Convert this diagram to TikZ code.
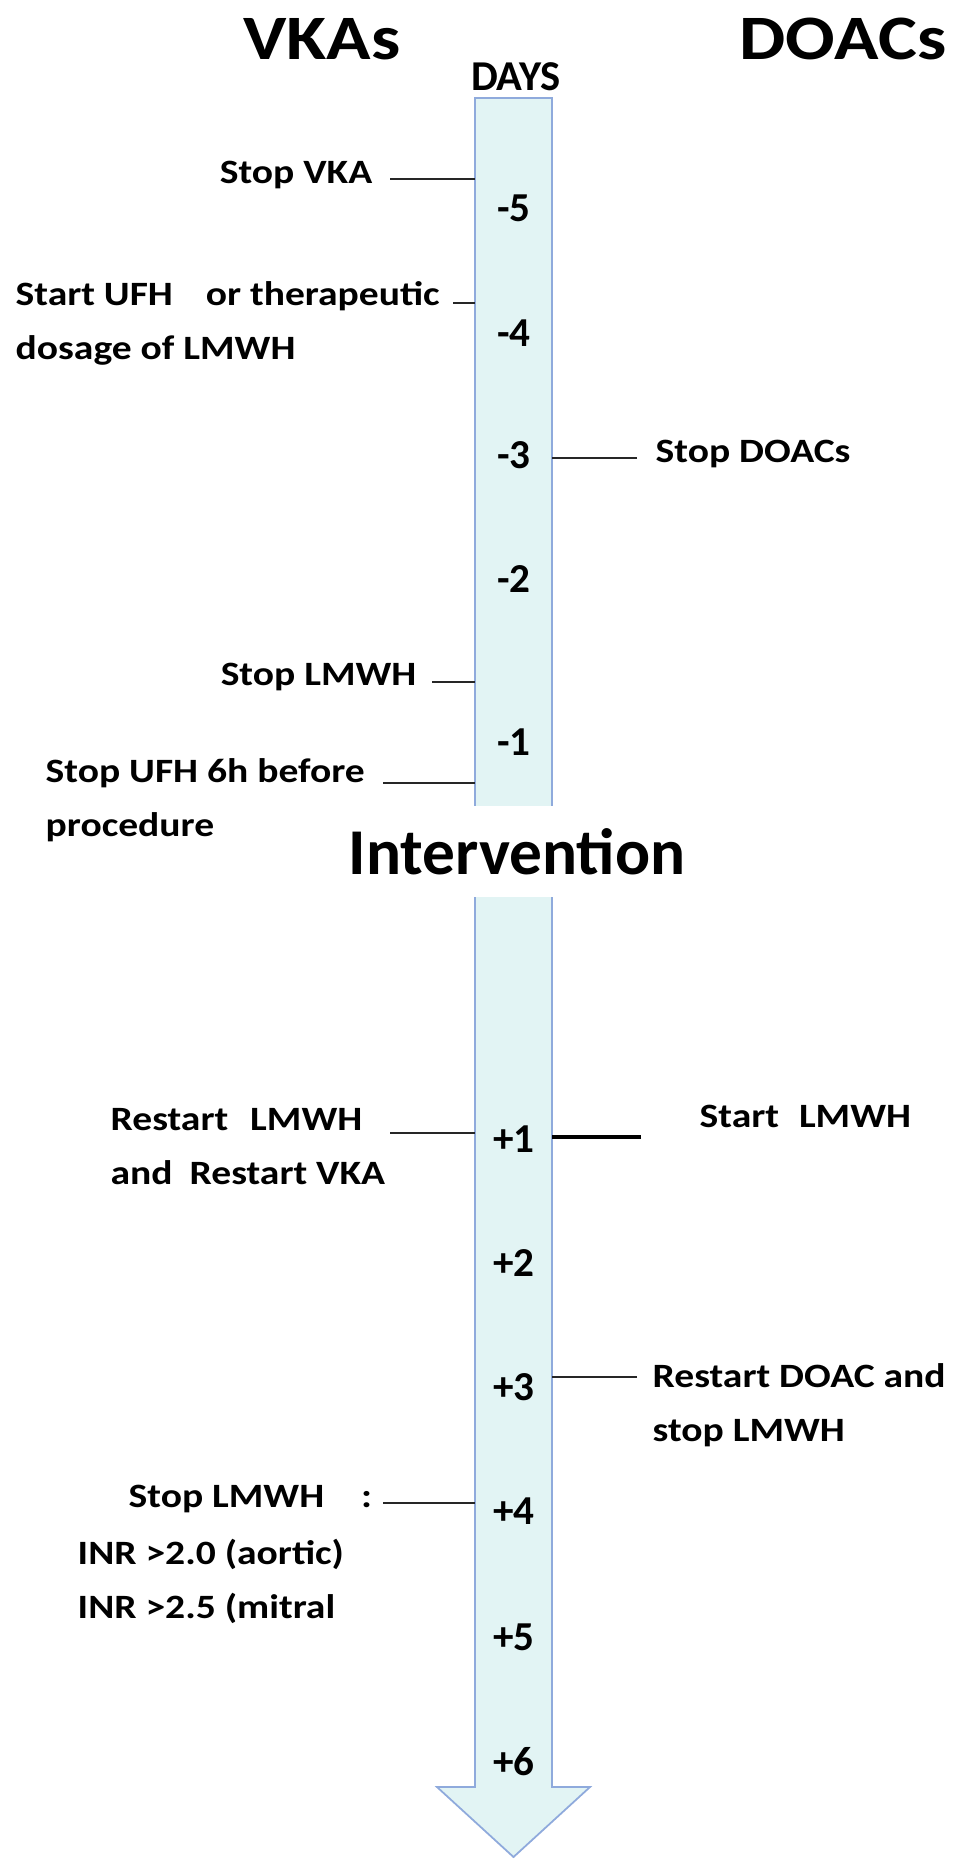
\documentclass[tikz,border=0pt]{standalone}
\usepackage{fontspec}
\usepackage{xcolor}
\usepackage{tikz}
\setmainfont{Carlito}
\newfontfamily\widefont{Carlito}[FakeStretch=1.16]
\definecolor{shaftfill}{RGB}{226,244,244}
\definecolor{shaftline}{RGB}{143,170,220}

\begin{document}
\begin{tikzpicture}[
  lbl/.style={font=\widefont\bfseries\fontsize{9.7}{15.4}\selectfont, inner sep=0pt, align=left},
  colhead/.style={font=\widefont\bfseries\fontsize{18}{22}\selectfont, inner sep=0pt},
  num/.style={font=\bfseries\fontsize{11.7}{14}\selectfont, inner sep=0pt},
  tick/.style={draw=black!85, line width=0.6pt}]
\fill[white] (0,0) rectangle (9.52,-18.59);
\useasboundingbox (0,0) rectangle (9.52,-18.59);

% time arrow
\filldraw[fill=shaftfill, draw=shaftline, line width=0.5pt] (4.75,-0.98) -- (5.52,-0.98) -- (5.52,-17.87) -- (5.90,-17.87) -- (5.135,-18.57) -- (4.37,-17.87) -- (4.75,-17.87) -- cycle;
\coordinate (shaftW) at (4.75,0);
\coordinate (shaftE) at (5.52,0);

\node[colhead] (vkas) at (3.22,-0.39) {VKAs};
\node[colhead] (doacs) at (8.43,-0.39) {DOACs};
\node[font=\bfseries\fontsize{12.1}{14}\selectfont, inner sep=0pt] (days) at (5.16,-0.77) {DAYS};

\foreach \lab/\y [count=\i] in {-5/2.08, -4/3.33, -3/4.55, -2/5.79, -1/7.42, +1/11.39, +2/12.63, +3/13.87, +4/15.11, +5/16.37, +6/17.62}
  \node[num] (day\i) at (5.14,-\y) {\lab};

\node[font=\bfseries\fontsize{18.6}{22}\selectfont, fill=white, minimum height=0.91cm, inner xsep=4pt] (interv) at (5.17,-8.515) {Intervention};

% VKA side
\node[lbl, anchor=base east] (stopvka) at (3.73,-1.83) {Stop VKA};
\node[lbl, anchor=north west] (startufh) at (0.15,-2.81) {Start UFH\hspace{0.33cm}or therapeutic\\dosage of LMWH};
\node[lbl, anchor=base east] (stoplmwh) at (4.17,-6.85) {Stop LMWH};
\node[lbl, anchor=north west] (stopufh) at (0.45,-7.58) {Stop UFH 6h before\\procedure};
\node[lbl, anchor=north west] (restartlmwh) at (1.10,-11.08) {Restart\hspace{0.22cm}LMWH\\and\hspace{0.17cm}Restart VKA};
\node[lbl, anchor=base west] (stoplmwhb) at (1.28,-15.07) {Stop LMWH\hspace{0.37cm}:};
\node[lbl, anchor=north west] (inr) at (0.77,-15.38) {INR >2.0 (aortic)\\INR >2.5 (mitral};

\coordinate (v1) at (3.90,-1.79);
\coordinate (v2) at (4.53,-3.03);
\coordinate (v3) at (4.32,-6.82);
\coordinate (v4) at (3.83,-7.83);
\coordinate (v5) at (3.90,-11.33);
\coordinate (v6) at (3.83,-15.03);
\draw[tick] (v1) -- (v1 -| shaftW);
\draw[tick] (v2) -- (v2 -| shaftW);
\draw[tick] (v3) -- (v3 -| shaftW);
\draw[tick, line width=0.8pt] (v4) -- (v4 -| shaftW);
\draw[tick] (v5) -- (v5 -| shaftW);
\draw[tick] (v6) -- (v6 -| shaftW);

% DOAC side
\node[lbl, anchor=base west] (stopdoacs) at (6.55,-4.62) {Stop DOACs};
\node[lbl, anchor=base west] (startlmwh) at (6.99,-11.27) {Start\hspace{0.2cm}LMWH};
\node[lbl, anchor=north west] (restartdoac) at (6.52,-13.63) {Restart DOAC and\\stop LMWH};

\coordinate (d1) at (6.37,-4.58);
\coordinate (d2) at (6.41,-11.37);
\coordinate (d3) at (6.37,-13.77);
\draw[tick] (d1) -- (d1 -| shaftE);
\draw[tick, line width=1.3pt, draw=black] (d2) -- (d2 -| shaftE);
\draw[tick] (d3) -- (d3 -| shaftE);
\end{tikzpicture}
\end{document}
